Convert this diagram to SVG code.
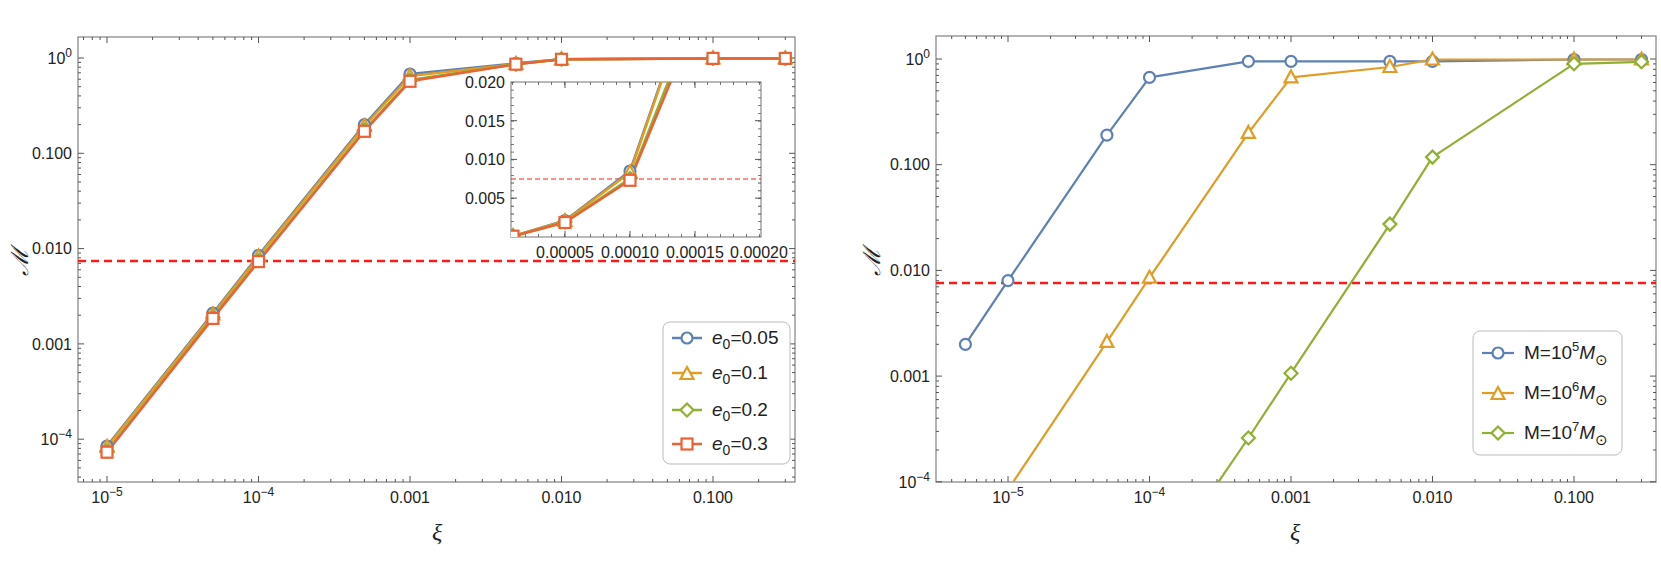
<svg xmlns="http://www.w3.org/2000/svg" xmlns:xlink="http://www.w3.org/1999/xlink" width="1661" height="574" viewBox="0 0 1661 574">
<style>
text{font-family:"Liberation Sans",Arial,sans-serif;fill:#222}
.tl{font-size:16px}
.lg{font-size:19px}
.frame{fill:none;stroke:#8a8a8a;stroke-width:1.3}
.tk{fill:none;stroke:#555;stroke-width:1}
.ax{font-family:"Liberation Serif","DejaVu Serif",serif;font-style:italic;font-size:24px}
.red{stroke:#ff1a1a;stroke-width:2.5;stroke-dasharray:8 5;fill:none}
.b{stroke:#5E81B5}.o{stroke:#E19C24}.g{stroke:#8FB032}.r{stroke:#EB6235}
.ln{fill:none;stroke-linejoin:round}
.mk{fill:#fff;stroke-width:2.2}
</style>
<defs>
<symbol id="ci" overflow="visible"><circle r="5.5"/></symbol>
<symbol id="tr" overflow="visible"><path d="M0,-7 L6.5,5 L-6.5,5Z"/></symbol>
<symbol id="di" overflow="visible"><path d="M0,-6.5 L6.5,0 L0,6.5 L-6.5,0Z"/></symbol>
<symbol id="sq" overflow="visible"><rect x="-5.5" y="-5.5" width="11" height="11"/></symbol>
<clipPath id="cl"><rect x="78" y="37" width="717" height="445"/></clipPath>
<clipPath id="cr"><rect x="936" y="36" width="720" height="446"/></clipPath>
<clipPath id="ci2"><rect x="511" y="82" width="250" height="155"/></clipPath>
</defs>

<g id="left-plot">
<rect class="frame" x="78" y="37" width="717" height="445"/>
<path class="tk" d="M83.5,482v-3M92.3,482v-3M100.1,482v-3M107,482v-6M152.6,482v-3M179.3,482v-3M198.2,482v-3M212.9,482v-3M224.9,482v-3M235,482v-3M243.8,482v-3M251.6,482v-3M258.5,482v-6M304.1,482v-3M330.8,482v-3M349.7,482v-3M364.4,482v-3M376.4,482v-3M386.5,482v-3M395.3,482v-3M403.1,482v-3M410,482v-6M455.6,482v-3M482.3,482v-3M501.2,482v-3M515.9,482v-3M527.9,482v-3M538,482v-3M546.8,482v-3M554.6,482v-3M561.5,482v-6M607.1,482v-3M633.8,482v-3M652.7,482v-3M667.4,482v-3M679.4,482v-3M689.5,482v-3M698.3,482v-3M706.1,482v-3M713,482v-6M758.6,482v-3M785.3,482v-3
M83.5,37v3M92.3,37v3M100.1,37v3M107,37v6M152.6,37v3M179.3,37v3M198.2,37v3M212.9,37v3M224.9,37v3M235,37v3M243.8,37v3M251.6,37v3M258.5,37v6M304.1,37v3M330.8,37v3M349.7,37v3M364.4,37v3M376.4,37v3M386.5,37v3M395.3,37v3M403.1,37v3M410,37v6M455.6,37v3M482.3,37v3M501.2,37v3M515.9,37v3M527.9,37v3M538,37v3M546.8,37v3M554.6,37v3M561.5,37v6M607.1,37v3M633.8,37v3M652.7,37v3M667.4,37v3M679.4,37v3M689.5,37v3M698.3,37v3M706.1,37v3M713,37v6M758.6,37v3M785.3,37v3"/>
<path id="lyt" class="tk" d="M78,58h6M78,62.4h3M78,67.2h3M78,72.8h3M78,79.2h3M78,86.7h3M78,95.9h3M78,107.8h3M78,124.6h3M78,153.3h6M78,157.7h3M78,162.5h3M78,168.1h3M78,174.5h3M78,182h3M78,191.2h3M78,203.1h3M78,219.9h3M78,248.6h6M78,253h3M78,257.8h3M78,263.4h3M78,269.8h3M78,277.3h3M78,286.5h3M78,298.4h3M78,315.2h3M78,343.9h6M78,348.3h3M78,353.1h3M78,358.7h3M78,365.1h3M78,372.6h3M78,381.8h3M78,393.7h3M78,410.5h3M78,439.2h6M78,443.6h3M78,448.4h3M78,454h3M78,460.4h3M78,467.9h3M78,477.1h3"/>
<use xlink:href="#lyt" transform="translate(873,0) scale(-1,1)"/>
<g class="tl" text-anchor="end">
<text x="72" y="64">10<tspan dy="-7" font-size="12">0</tspan></text>
<text x="72" y="159">0.100</text>
<text x="72" y="254">0.010</text>
<text x="72" y="350">0.001</text>
<text x="72" y="445">10<tspan dy="-7" font-size="12">−4</tspan></text>
</g>
<g class="tl" text-anchor="middle">
<text x="107" y="503">10<tspan dy="-7" font-size="12">−5</tspan></text>
<text x="258.5" y="503">10<tspan dy="-7" font-size="12">−4</tspan></text>
<text x="410" y="503">0.001</text>
<text x="561.5" y="503">0.010</text>
<text x="713" y="503">0.100</text>
</g>
<text class="ax" x="432" y="540">ξ</text>
<text class="ax" transform="translate(28,262) rotate(-90)" text-anchor="middle">ℳ</text>
<line class="red" x1="78" y1="261" x2="795" y2="261"/>
</g>

<g id="left-series" clip-path="url(#cl)">
<polyline class="ln b" stroke-width="2.5" points="107,446 212.9,313.2 258.5,255.3 364.4,124.6 410,74 515.9,63.3 561.5,59.3 713,58.4 785.3,58.4"/>
<polyline class="ln o" stroke-width="2.5" points="107,447 212.9,314.5 258.5,256.5 364.4,126 410,76 515.9,64 561.5,59.3 713,58.4 785.3,58.4"/>
<polyline class="ln g" stroke-width="2.5" points="107,451 212.9,317.5 258.5,260.5 364.4,130 410,80 515.9,64.2 561.5,59.3 713,58.4 785.3,58.4"/>
<polyline class="ln r" stroke-width="2.5" points="107,452.2 212.9,318.4 258.5,261.6 364.4,131.3 410,81.3 515.9,64.2 561.5,59.3 713,58.4 785.3,58.4"/>
<g class="mk b"><use xlink:href="#ci" x="107" y="446"/><use xlink:href="#ci" x="212.9" y="313.2"/><use xlink:href="#ci" x="258.5" y="255.3"/><use xlink:href="#ci" x="364.4" y="124.6"/><use xlink:href="#ci" x="410" y="74"/><use xlink:href="#ci" x="515.9" y="63.3"/><use xlink:href="#ci" x="561.5" y="59.3"/><use xlink:href="#ci" x="713" y="58.4"/><use xlink:href="#ci" x="785.3" y="58.4"/></g>
<g class="mk o"><use xlink:href="#tr" x="107" y="447"/><use xlink:href="#tr" x="212.9" y="314.5"/><use xlink:href="#tr" x="258.5" y="256.5"/><use xlink:href="#tr" x="364.4" y="126"/><use xlink:href="#tr" x="410" y="76"/><use xlink:href="#tr" x="515.9" y="64"/><use xlink:href="#tr" x="561.5" y="59.3"/><use xlink:href="#tr" x="713" y="58.4"/><use xlink:href="#tr" x="785.3" y="58.4"/></g>
<g class="mk g"><use xlink:href="#di" x="107" y="451"/><use xlink:href="#di" x="212.9" y="317.5"/><use xlink:href="#di" x="258.5" y="260.5"/><use xlink:href="#di" x="364.4" y="130"/><use xlink:href="#di" x="410" y="80"/><use xlink:href="#di" x="515.9" y="64.2"/><use xlink:href="#di" x="561.5" y="59.3"/><use xlink:href="#di" x="713" y="58.4"/><use xlink:href="#di" x="785.3" y="58.4"/></g>
<g class="mk r"><use xlink:href="#sq" x="107" y="452.2"/><use xlink:href="#sq" x="212.9" y="318.4"/><use xlink:href="#sq" x="258.5" y="261.6"/><use xlink:href="#sq" x="364.4" y="131.3"/><use xlink:href="#sq" x="410" y="81.3"/><use xlink:href="#sq" x="515.9" y="64.2"/><use xlink:href="#sq" x="561.5" y="59.3"/><use xlink:href="#sq" x="713" y="58.4"/><use xlink:href="#sq" x="785.3" y="58.4"/></g>
</g>

<g id="inset">
<rect x="511" y="82" width="250" height="155" fill="#fff" stroke="#8a8a8a" stroke-width="1.2"/>
<line x1="512.5" y1="82" x2="512.5" y2="237" stroke="#555" stroke-width="3" stroke-dasharray="0.8 6.94"/>
<line x1="759.5" y1="82" x2="759.5" y2="237" stroke="#555" stroke-width="3" stroke-dasharray="0.8 6.94"/>
<line x1="760" y1="235.5" x2="511" y2="235.5" stroke="#555" stroke-width="3" stroke-dasharray="0.8 12.2"/>
<line x1="760" y1="83.5" x2="511" y2="83.5" stroke="#555" stroke-width="3" stroke-dasharray="0.8 12.2"/>
<path class="tk" d="M511,198.1h6M511,159.4h6M511,120.7h6M761,198.1h-6M761,159.4h-6M761,120.7h-6M565,237v-6M630,237v-6M695,237v-6M565,82v6M630,82v6M695,82v6"/>
<g class="tl" text-anchor="end">
<text x="505" y="88">0.020</text><text x="505" y="127">0.015</text><text x="505" y="165">0.010</text><text x="505" y="204">0.005</text>
</g>
<g class="tl" text-anchor="middle">
<text x="565" y="258">0.00005</text><text x="630" y="258">0.00010</text><text x="695" y="258">0.00015</text><text x="759" y="258">0.00020</text>
</g>
<g clip-path="url(#ci2)">
<line x1="511" y1="179" x2="761" y2="179" stroke="#ff1a1a" stroke-width="1" stroke-dasharray="5 3"/>
<polyline class="ln b" stroke-width="2.5" points="513,236.1 565,220.5 630,171 1150,-1329"/>
<polyline class="ln o" stroke-width="2.5" points="513,236.1 565,221 630,172.5 1150,-1329"/>
<polyline class="ln g" stroke-width="2.5" points="513,236.2 565,222 630,178.5 1150,-1140"/>
<polyline class="ln r" stroke-width="2.5" points="513,236.2 565,222.5 630,180.3 1150,-1079"/>
<g class="mk b"><use xlink:href="#ci" x="513" y="236.1"/><use xlink:href="#ci" x="565" y="220.5"/><use xlink:href="#ci" x="630" y="171"/></g>
<g class="mk o"><use xlink:href="#tr" x="513" y="236.1"/><use xlink:href="#tr" x="565" y="221"/><use xlink:href="#tr" x="630" y="172.5"/></g>
<g class="mk g"><use xlink:href="#di" x="513" y="236.2"/><use xlink:href="#di" x="565" y="222"/><use xlink:href="#di" x="630" y="178.5"/></g>
<g class="mk r"><use xlink:href="#sq" x="513" y="236.2"/><use xlink:href="#sq" x="565" y="222.5"/><use xlink:href="#sq" x="630" y="180.3"/></g>
</g>
</g>

<g id="left-legend">
<rect x="663" y="322" width="127" height="142" rx="7" fill="#fff" stroke="#bbb" stroke-width="1"/>
<g stroke-width="2.5"><line class="b" x1="672" y1="338" x2="702" y2="338"/><line class="o" x1="672" y1="373" x2="702" y2="373"/><line class="g" x1="672" y1="410" x2="702" y2="410"/><line class="r" x1="672" y1="444" x2="702" y2="444"/></g>
<use class="mk b" xlink:href="#ci" x="687" y="338"/><use class="mk o" xlink:href="#tr" x="687" y="374"/><use class="mk g" xlink:href="#di" x="687" y="410"/><use class="mk r" xlink:href="#sq" x="687" y="444"/>
<g class="lg"><text x="712" y="344"><tspan font-style="italic">e</tspan><tspan dy="5" font-size="14">0</tspan><tspan dy="-5">=0.05</tspan></text>
<text x="712" y="379"><tspan font-style="italic">e</tspan><tspan dy="5" font-size="14">0</tspan><tspan dy="-5">=0.1</tspan></text>
<text x="712" y="416"><tspan font-style="italic">e</tspan><tspan dy="5" font-size="14">0</tspan><tspan dy="-5">=0.2</tspan></text>
<text x="712" y="450"><tspan font-style="italic">e</tspan><tspan dy="5" font-size="14">0</tspan><tspan dy="-5">=0.3</tspan></text></g>
</g>

<g id="right-plot">
<rect class="frame" x="936" y="36" width="720" height="446"/>
<path class="tk" d="M951.7,482v-3M965.4,482v-3M976.6,482v-3M986.1,482v-3M994.3,482v-3M1001.5,482v-3M1008,482v-6M1050.6,482v-3M1075.5,482v-3M1093.2,482v-3M1106.9,482v-3M1118.1,482v-3M1127.6,482v-3M1135.8,482v-3M1143,482v-3M1149.5,482v-6M1192.1,482v-3M1217,482v-3M1234.7,482v-3M1248.4,482v-3M1259.6,482v-3M1269.1,482v-3M1277.3,482v-3M1284.5,482v-3M1291,482v-6M1333.6,482v-3M1358.5,482v-3M1376.2,482v-3M1389.9,482v-3M1401.1,482v-3M1410.6,482v-3M1418.8,482v-3M1426,482v-3M1432.5,482v-6M1475.1,482v-3M1500,482v-3M1517.7,482v-3M1531.4,482v-3M1542.6,482v-3M1552.1,482v-3M1560.3,482v-3M1567.5,482v-3M1574,482v-6M1616.6,482v-3M1641.5,482v-3
M951.7,36v3M965.4,36v3M976.6,36v3M986.1,36v3M994.3,36v3M1001.5,36v3M1008,36v6M1050.6,36v3M1075.5,36v3M1093.2,36v3M1106.9,36v3M1118.1,36v3M1127.6,36v3M1135.8,36v3M1143,36v3M1149.5,36v6M1192.1,36v3M1217,36v3M1234.7,36v3M1248.4,36v3M1259.6,36v3M1269.1,36v3M1277.3,36v3M1284.5,36v3M1291,36v6M1333.6,36v3M1358.5,36v3M1376.2,36v3M1389.9,36v3M1401.1,36v3M1410.6,36v3M1418.8,36v3M1426,36v3M1432.5,36v6M1475.1,36v3M1500,36v3M1517.7,36v3M1531.4,36v3M1542.6,36v3M1552.1,36v3M1560.3,36v3M1567.5,36v3M1574,36v6M1616.6,36v3M1641.5,36v3"/>
<path id="ryt" class="tk" d="M936,59h6M936,63.9h3M936,69.3h3M936,75.4h3M936,82.5h3M936,90.8h3M936,101.1h3M936,114.3h3M936,132.9h3M936,164.7h6M936,169.6h3M936,175h3M936,181.1h3M936,188.2h3M936,196.5h3M936,206.8h3M936,220h3M936,238.6h3M936,270.4h6M936,275.3h3M936,280.7h3M936,286.8h3M936,293.9h3M936,302.2h3M936,312.5h3M936,325.7h3M936,344.3h3M936,376.1h6M936,381h3M936,386.4h3M936,392.5h3M936,399.6h3M936,407.9h3M936,418.2h3M936,431.4h3M936,450h3M936,481.8h6"/>
<use xlink:href="#ryt" transform="translate(2592,0) scale(-1,1)"/>
<g class="tl" text-anchor="end">
<text x="930" y="65">10<tspan dy="-7" font-size="12">0</tspan></text>
<text x="930" y="170">0.100</text>
<text x="930" y="276">0.010</text>
<text x="930" y="382">0.001</text>
<text x="930" y="488">10<tspan dy="-7" font-size="12">−4</tspan></text>
</g>
<g class="tl" text-anchor="middle">
<text x="1008" y="503">10<tspan dy="-7" font-size="12">−5</tspan></text>
<text x="1149.5" y="503">10<tspan dy="-7" font-size="12">−4</tspan></text>
<text x="1291" y="503">0.001</text>
<text x="1432.5" y="503">0.010</text>
<text x="1574" y="503">0.100</text>
</g>
<text class="ax" x="1290" y="540">ξ</text>
<text class="ax" transform="translate(880,262) rotate(-90)" text-anchor="middle">ℳ</text>
<line class="red" x1="936" y1="283" x2="1656" y2="283"/>
</g>

<g id="right-series" clip-path="url(#cr)">
<polyline class="ln b" stroke-width="2.2" points="965.4,344.3 1008,280.6 1106.9,135.2 1149.5,77.4 1248.4,61.4 1291,61.4 1389.9,61.4 1432.5,61.4 1574,59.5 1641.5,59.5"/>
<polyline class="ln o" stroke-width="2.2" points="1008,489.8 1106.9,341.9 1149.5,277.7 1248.4,132.9 1291,77.4 1389.9,67 1432.5,59.5 1574,59.5 1641.5,59.5"/>
<polyline class="ln g" stroke-width="2.2" points="1149.5,583.1 1248.4,438 1291,373.2 1389.9,224.1 1432.5,157.1 1574,63.8 1641.5,61.8"/>
<g class="mk b"><use xlink:href="#ci" x="965.4" y="344.3"/><use xlink:href="#ci" x="1008" y="280.6"/><use xlink:href="#ci" x="1106.9" y="135.2"/><use xlink:href="#ci" x="1149.5" y="77.4"/><use xlink:href="#ci" x="1248.4" y="61.4"/><use xlink:href="#ci" x="1291" y="61.4"/><use xlink:href="#ci" x="1389.9" y="61.4"/><use xlink:href="#ci" x="1432.5" y="61.4"/><use xlink:href="#ci" x="1574" y="59.5"/><use xlink:href="#ci" x="1641.5" y="59.5"/></g>
<g class="mk o"><use xlink:href="#tr" x="1106.9" y="341.9"/><use xlink:href="#tr" x="1149.5" y="277.7"/><use xlink:href="#tr" x="1248.4" y="132.9"/><use xlink:href="#tr" x="1291" y="77.4"/><use xlink:href="#tr" x="1389.9" y="67"/><use xlink:href="#tr" x="1432.5" y="59.5"/><use xlink:href="#tr" x="1574" y="59.5"/><use xlink:href="#tr" x="1641.5" y="59.5"/></g>
<g class="mk g"><use xlink:href="#di" x="1248.4" y="438"/><use xlink:href="#di" x="1291" y="373.2"/><use xlink:href="#di" x="1389.9" y="224.1"/><use xlink:href="#di" x="1432.5" y="157.1"/><use xlink:href="#di" x="1574" y="63.8"/><use xlink:href="#di" x="1641.5" y="61.8"/></g>
</g>

<g id="right-legend">
<rect x="1473" y="331" width="149" height="124" rx="7" fill="#fff" stroke="#bbb" stroke-width="1"/>
<g stroke-width="2.2"><line class="b" x1="1482" y1="353" x2="1514" y2="353"/><line class="o" x1="1482" y1="393" x2="1514" y2="393"/><line class="g" x1="1482" y1="433" x2="1514" y2="433"/></g>
<use class="mk b" xlink:href="#ci" x="1498" y="353"/><use class="mk o" xlink:href="#tr" x="1498" y="394"/><use class="mk g" xlink:href="#di" x="1498" y="433"/>
<g class="lg"><text x="1524" y="359">M=10<tspan dy="-8" font-size="13">5</tspan><tspan dy="8" font-style="italic">M</tspan><tspan dy="6" font-size="15">⊙</tspan></text>
<text x="1524" y="399">M=10<tspan dy="-8" font-size="13">6</tspan><tspan dy="8" font-style="italic">M</tspan><tspan dy="6" font-size="15">⊙</tspan></text>
<text x="1524" y="439">M=10<tspan dy="-8" font-size="13">7</tspan><tspan dy="8" font-style="italic">M</tspan><tspan dy="6" font-size="15">⊙</tspan></text></g>
</g>
</svg>
